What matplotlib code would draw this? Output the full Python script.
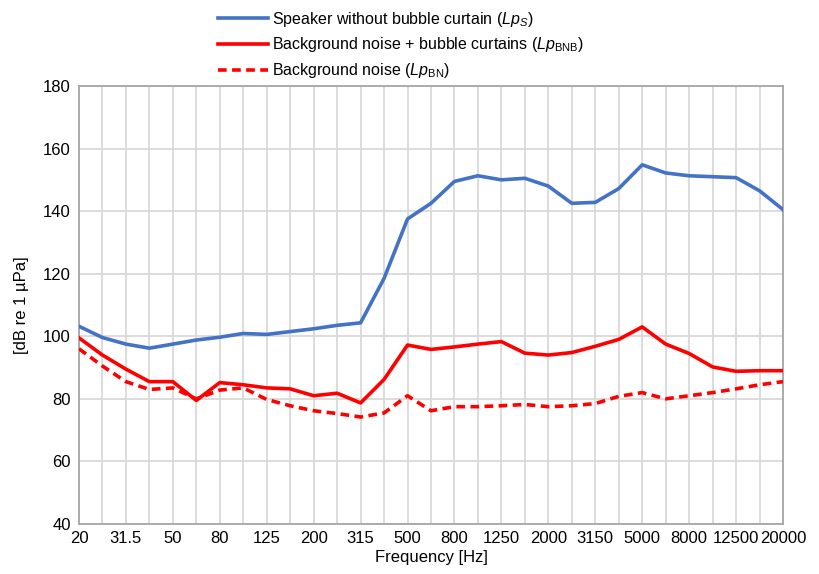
import matplotlib
matplotlib.use("Agg")
import matplotlib.pyplot as plt
import numpy as np

plt.rcParams['font.family'] = ['Liberation Sans', 'DejaVu Sans']
plt.rcParams['mathtext.fontset'] = 'custom'
plt.rcParams['mathtext.rm'] = 'Liberation Sans'
plt.rcParams['mathtext.it'] = 'Liberation Sans:italic'

freqs = ["20", "25", "31.5", "40", "50", "63", "80", "100", "125", "160", "200", "250",
         "315", "400", "500", "630", "800", "1000", "1250", "1600", "2000", "2500",
         "3150", "4000", "5000", "6300", "8000", "10000", "12500", "16000", "20000"]

speaker = [103.2, 99.6, 97.5, 96.2, 97.5, 98.8, 99.7, 100.9, 100.6, 101.5, 102.4, 103.5,
           104.3, 118.5, 137.5, 142.5, 149.5, 151.3, 150.0, 150.5, 148.0, 142.5,
           142.8, 147.2, 154.8, 152.2, 151.3, 151.0, 150.7, 146.5, 140.5]

bnb = [99.5, 94.0, 89.5, 85.5, 85.5, 79.5, 85.2, 84.5, 83.5, 83.2, 81.0, 81.8,
       78.7, 86.2, 97.2, 95.8, 96.6, 97.5, 98.3, 94.6, 94.0, 94.8,
       96.8, 99.0, 103.0, 97.5, 94.5, 90.2, 88.8, 89.0, 89.0]

bn = [96.0, 90.5, 85.5, 83.0, 83.5, 80.0, 82.8, 83.5, 79.8, 77.8, 76.2, 75.3,
      74.2, 75.5, 81.0, 76.2, 77.5, 77.5, 77.8, 78.2, 77.5, 77.8,
      78.5, 80.8, 82.0, 80.0, 81.0, 82.0, 83.2, 84.5, 85.5]

labels = ["Speaker without bubble curtain ($Lp_{\\mathit{S}}$)",
          "Background noise + bubble curtains ($Lp_{\\mathrm{BNB}}$)",
          "Background noise ($Lp_{\\mathrm{BN}}$)"]

fig = plt.figure(figsize=(8.2, 5.74), dpi=100)
ax = fig.add_axes([0.0963, 0.0871, 0.8586, 0.7631])

x = np.arange(len(freqs))
l1, = ax.plot(x, speaker, color='#4472C4', lw=2.6, solid_joinstyle='round', zorder=3)
l2, = ax.plot(x, bnb, color='#FF0000', lw=2.6, solid_joinstyle='round', zorder=3)
l3, = ax.plot(x, bn, color='#FF0000', lw=2.6, dashes=(2.4, 1.5), zorder=3)

ax.set_xlim(0, len(freqs) - 1)
ax.set_ylim(40, 180)
ax.set_yticks(np.arange(40, 181, 20))
ax.set_xticks(x)
ax.set_xticklabels([f if i % 2 == 0 else "" for i, f in enumerate(freqs)])
ax.tick_params(axis='both', length=0, labelsize=12, colors='#000000', pad=6)
ax.tick_params(axis='x', pad=5)
ax.grid(True, color='#D9D9D9', lw=1.3, zorder=0)
ax.set_axisbelow(True)
for s in ax.spines.values():
    s.set_color('#A6A6A6')
    s.set_linewidth(1.3)

ax.set_xlabel("Frequency [Hz]", fontsize=12, labelpad=3)
ax.set_ylabel("[dB re 1 µPa]", fontsize=12, labelpad=10)

fig.legend([l1, l2, l3], labels, loc='upper left', bbox_to_anchor=(0.266, 0.983),
           frameon=False, fontsize=11.5, handlelength=3.1, handletextpad=0.25,
           labelspacing=0.42, borderpad=0, borderaxespad=0)

fig.savefig("out.png", dpi=100)
